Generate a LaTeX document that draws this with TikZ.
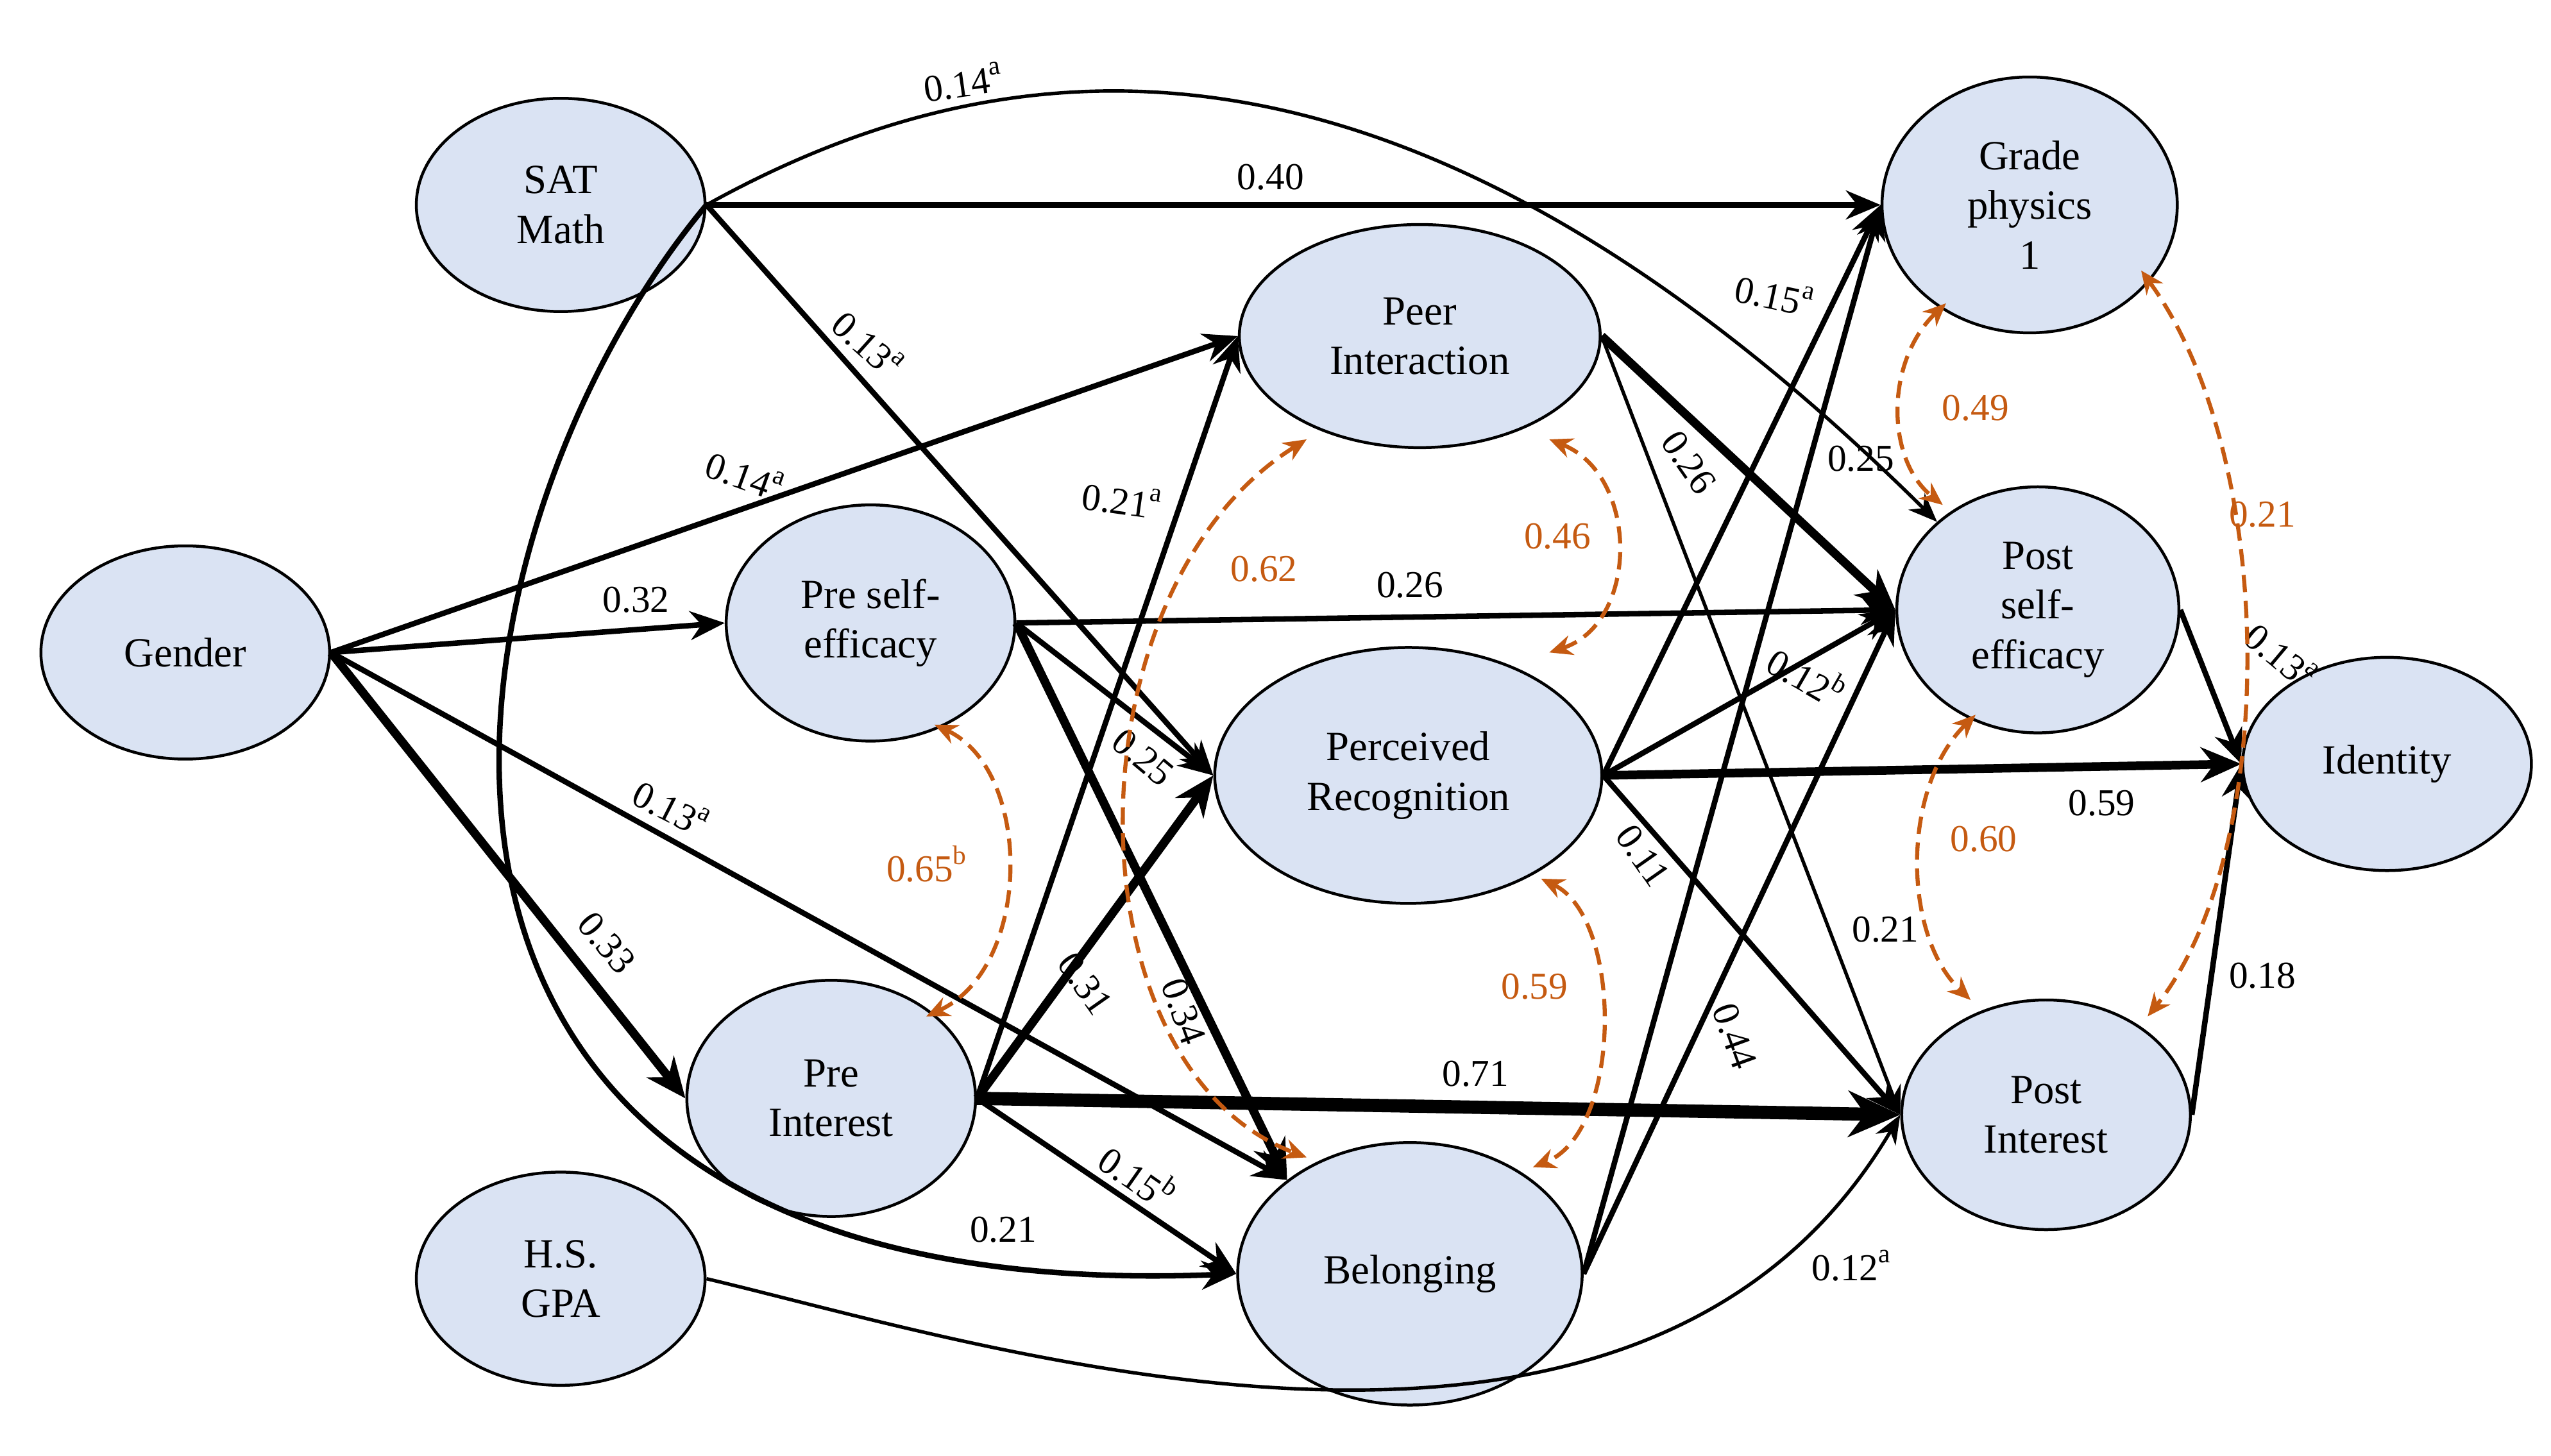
\documentclass[tikz,border=0pt]{standalone}
\usepackage{fontspec}
\setmainfont{Liberation Serif}
\usetikzlibrary{arrows.meta,shapes.geometric}
\definecolor{nodefill}{HTML}{DAE3F3}
\definecolor{corr}{HTML}{C55A11}
\begin{document}
\begin{tikzpicture}[x=0.01cm,y=-0.01cm,
  var/.style={ellipse,draw,line width=0.5pt,fill=nodefill,inner sep=0pt,align=center,font=\fontsize{7.2}{8.6}\selectfont},
  p/.style={-{Stealth[length=5pt,width=4pt]},line width=0.6pt},
  pt/.style={-{Stealth[length=6pt,width=5pt]},line width=0.95pt},
  ptt/.style={-{Stealth[length=7pt,width=6pt]},line width=1.5pt},
  pttt/.style={-{Stealth[length=9pt,width=8pt]},line width=2.3pt},
  cv/.style={{Stealth[length=4pt,width=3.5pt]}-{Stealth[length=4pt,width=3.5pt]},dashed,corr,line width=0.7pt,dash pattern=on 3pt off 1.5pt},
  lb/.style={font=\fontsize{6.6}{8}\selectfont,inner sep=1pt},
  cl/.style={font=\fontsize{6.6}{8}\selectfont,text=corr,inner sep=1pt}]
\useasboundingbox (0,0) rectangle (1556,888);
\node[var,minimum width=1.76cm,minimum height=1.30cm] (sat) at (342,125) {SAT\\Math};
\node[var,minimum width=1.76cm,minimum height=1.30cm] (gen) at (113,398) {Gender};
\node[var,minimum width=1.76cm,minimum height=1.30cm] (gpa) at (342,780) {H.S.\\GPA};
\node[var,minimum width=1.76cm,minimum height=1.44cm] (pse) at (531,380) {Pre self-\\efficacy};
\node[var,minimum width=1.76cm,minimum height=1.44cm] (pin) at (507,670) {Pre\\Interest};
\node[var,minimum width=2.20cm,minimum height=1.36cm] (peer) at (866,205) {Peer\\Interaction};
\node[var,minimum width=2.36cm,minimum height=1.56cm] (rec) at (859,473) {Perceived\\Recognition};
\node[var,minimum width=2.10cm,minimum height=1.60cm] (bel) at (860,777) {Belonging};
\node[var,minimum width=1.80cm,minimum height=1.56cm] (gr) at (1238,125) {Grade\\physics\\1};
\node[var,minimum width=1.72cm,minimum height=1.50cm] (pos) at (1243,372) {Post\\self-\\efficacy};
\node[var,minimum width=1.76cm,minimum height=1.30cm] (id) at (1456,466) {Identity};
\node[var,minimum width=1.76cm,minimum height=1.40cm] (poi) at (1248,680) {Post\\Interest};
% SAT paths
\draw[pt] (sat.east) -- (gr.west);
\node[lb] at (775,108) {0.40};
\draw[p] (sat.east) .. controls (620,20) and (860,0) .. (pos.north west);
\node[lb,rotate=8] at (588,50) {0.14\textsuperscript{a}};
\draw[pt] (sat.east) -- (rec.west);
\node[lb,rotate=-42] at (530,210) {0.13\textsuperscript{a}};
\draw[pt] (sat.east) .. controls (260,330) and (180,800) .. (bel.west);
\node[lb] at (612,750) {0.21};
% Gender
\draw[pt] (gen.east) -- (peer.west);
\node[lb,rotate=-20] at (455,290) {0.14\textsuperscript{a}};
\draw[pt] (gen.east) -- (pse.west);
\node[lb] at (388,366) {0.32};
\draw[ptt] (gen.east) -- (pin.west);
\node[lb,rotate=-50] at (370,575) {0.33};
\draw[pt] (gen.east) -- (bel.north west);
\node[lb,rotate=-27] at (410,493) {0.13\textsuperscript{a}};
% Pre self-efficacy
\draw[pt] (pse.east) -- (pos.west);
\node[lb] at (860,357) {0.26};
\draw[pt] (pse.east) -- (rec.west);
\node[lb,rotate=-40] at (697,462) {0.25};
\draw[ptt] (pse.east) -- (bel.north west);
\node[lb,rotate=-70] at (722,617) {0.34};
% Pre interest
\draw[pt] (pin.east) -- (peer.west);
\node[lb,rotate=-8] at (685,305) {0.21\textsuperscript{a}};
\draw[ptt] (pin.east) -- (rec.west);
\node[lb,rotate=-55] at (662,600) {0.31};
\draw[pttt] (pin.east) -- (poi.west);
\node[lb] at (900,655) {0.71};
\draw[pt] (pin.east) -- (bel.west);
\node[lb,rotate=-35] at (695,717) {0.15\textsuperscript{b}};
% Peer
\draw[ptt] (peer.east) -- (pos.west);
\node[lb,rotate=-55] at (1030,282) {0.26};
\draw[p] (peer.east) -- (poi.west);
\node[lb] at (1150,567) {0.21};
% Recognition
\draw[ptt] (rec.east) -- (id.west);
\node[lb] at (1282,490) {0.59};
\draw[pt] (rec.east) -- (gr.west);
\node[lb] at (1135,280) {0.25};
\draw[pt] (rec.east) -- (pos.west);
\node[lb,rotate=-30] at (1103,412) {0.12\textsuperscript{b}};
\draw[pt] (rec.east) -- (poi.west);
\node[lb,rotate=-55] at (1002,522) {0.11};
% Belonging
\draw[pt] (bel.east) -- (gr.west);
\node[lb,rotate=-12] at (1083,180) {0.15\textsuperscript{a}};
\draw[pt] (bel.east) -- (pos.west);
\node[lb,rotate=-70] at (1058,632) {0.44};
% GPA
\draw[p] (gpa.east) .. controls (600,820) and (1000,950) .. (poi.west);
\node[lb] at (1130,772) {0.12\textsuperscript{a}};
% to identity
\draw[pt] (pos.east) -- (id.west);
\node[lb,rotate=-40] at (1392,400) {0.13\textsuperscript{a}};
\draw[pt] (poi.east) -- (id.west);
\node[lb] at (1380,595) {0.18};
% correlations
\draw[cv] (570,442) .. controls (630,470) and (630,590) .. (565,620);
\node[cl] at (566,527) {0.65\textsuperscript{b}};
\draw[cv] (797,268) .. controls (650,360) and (650,650) .. (797,706);
\node[cl] at (771,347) {0.62};
\draw[cv] (945,268) .. controls (1000,290) and (1000,380) .. (945,398);
\node[cl] at (950,327) {0.46};
\draw[cv] (940,536) .. controls (990,560) and (990,690) .. (935,712);
\node[cl] at (936,602) {0.59};
\draw[cv] (1187,185) .. controls (1150,220) and (1150,280) .. (1185,308);
\node[cl] at (1205,249) {0.49};
\draw[cv] (1306,165) .. controls (1390,280) and (1390,520) .. (1310,620);
\node[cl] at (1380,314) {0.21};
\draw[cv] (1205,436) .. controls (1160,480) and (1160,570) .. (1202,610);
\node[cl] at (1210,512) {0.60};
\end{tikzpicture}
\end{document}
